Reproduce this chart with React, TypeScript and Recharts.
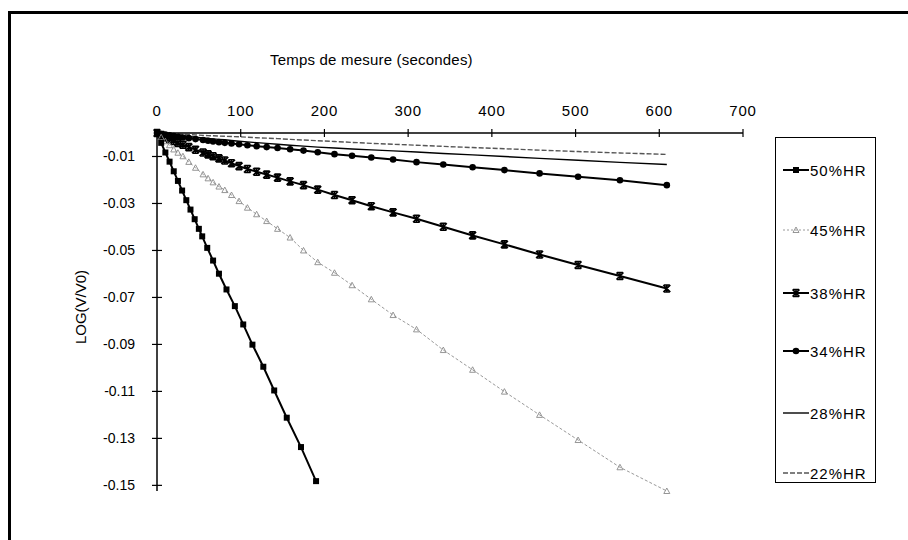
import React from 'react';
import { LineChart, Line, XAxis, YAxis } from 'recharts';

// temps de mesure (s)
const TIMES = [0, 5, 10, 15, 20, 25, 31, 38, 46, 55, 61, 67, 74, 81, 89, 98, 108, 119, 131, 144, 159, 175, 192, 212, 233, 256, 282, 310, 342, 377, 415, 457, 503, 553, 609];
const TIMES_50 = [0, 5, 10, 15, 20, 25, 30, 35, 40, 45, 50, 54, 60, 67, 74, 83, 93, 103, 114, 127, 140, 155, 172, 190];

// LOG(V/V0)
const HR50 = [0, -0.0042, -0.0083, -0.0122, -0.0163, -0.0204, -0.0245, -0.0286, -0.0326, -0.0367, -0.0408, -0.044, -0.0489, -0.0543, -0.0599, -0.0666, -0.0737, -0.0815, -0.0901, -0.0995, -0.1096, -0.1212, -0.1337, -0.1482];
const HR45 = [0, -0.0018, -0.0035, -0.0052, -0.007, -0.0084, -0.0099, -0.0123, -0.0148, -0.0176, -0.0193, -0.021, -0.0228, -0.0243, -0.0264, -0.029, -0.0318, -0.0346, -0.0375, -0.0408, -0.0445, -0.05, -0.055, -0.0595, -0.0648, -0.0708, -0.0775, -0.0836, -0.0924, -0.1008, -0.1101, -0.12, -0.1307, -0.1423, -0.1524];
const HR38 = [0, -0.0009, -0.0018, -0.0026, -0.0034, -0.0042, -0.005, -0.006, -0.0071, -0.0083, -0.0091, -0.0099, -0.0108, -0.0117, -0.0129, -0.0141, -0.0153, -0.0165, -0.0177, -0.019, -0.0206, -0.0222, -0.0241, -0.0264, -0.0286, -0.0312, -0.0338, -0.0365, -0.0399, -0.0436, -0.0474, -0.0517, -0.0562, -0.0609, -0.0662];
const HR34 = [0, -0.0004, -0.0007, -0.001, -0.0013, -0.0016, -0.0019, -0.0022, -0.0026, -0.003, -0.0033, -0.0036, -0.0039, -0.0042, -0.0045, -0.0048, -0.0052, -0.0056, -0.006, -0.0064, -0.0069, -0.0075, -0.0082, -0.009, -0.0097, -0.0104, -0.0113, -0.0124, -0.0134, -0.0146, -0.0158, -0.0172, -0.0186, -0.0201, -0.0222];
const HR28 = [0, -0.0002, -0.0004, -0.0006, -0.0008, -0.001, -0.0012, -0.0015, -0.0018, -0.0021, -0.0023, -0.0025, -0.0027, -0.0029, -0.0032, -0.0035, -0.0038, -0.0041, -0.0044, -0.0048, -0.0052, -0.0056, -0.006, -0.0064, -0.0068, -0.0072, -0.0076, -0.0081, -0.0087, -0.0093, -0.01, -0.0108, -0.0116, -0.0125, -0.0134];
const HR22 = [0, -0.0001, -0.0002, -0.0003, -0.0004, -0.0005, -0.0006, -0.0007, -0.0008, -0.001, -0.0011, -0.0012, -0.0013, -0.0014, -0.0015, -0.0016, -0.0018, -0.002, -0.0022, -0.0024, -0.0027, -0.003, -0.0033, -0.0036, -0.004, -0.0044, -0.0048, -0.0052, -0.0057, -0.0062, -0.0067, -0.0073, -0.0079, -0.0085, -0.0091];

const X_TICKS = [0, 100, 200, 300, 400, 500, 600, 700];
const Y_TICKS = [-0.01, -0.03, -0.05, -0.07, -0.09, -0.11, -0.13, -0.15];
const NAMES = ['50%HR', '45%HR', '38%HR', '34%HR', '28%HR', '22%HR'];

const FONT = '"Liberation Sans", Arial, Helvetica, sans-serif';

const toPoints = (ts: number[], vs: number[]) => ts.map((t, i) => ({ t, v: vs[i] }));

// markers
const squareShape = (cx: number, cy: number, k?: any) => (
  <rect key={k} x={cx - 3} y={cy - 3} width={6} height={6} fill="#000" />
);
const triShape = (cx: number, cy: number, k?: any) => (
  <path key={k} d={`M${cx},${cy - 3} L${cx + 3},${cy + 2.5} L${cx - 3},${cy + 2.5} Z`} fill="none" stroke="#8a8a8a" strokeWidth={0.9} />
);
const starShape = (cx: number, cy: number, k?: any) => (
  <path key={k} d={`M${cx - 3.5},${cy - 3.5} L${cx + 3.5},${cy + 3.5} M${cx + 3.5},${cy - 3.5} L${cx - 3.5},${cy + 3.5} M${cx},${cy - 4} L${cx},${cy + 4} M${cx - 3},${cy - 3.5} L${cx + 3},${cy - 3.5} M${cx - 3},${cy + 3.5} L${cx + 3},${cy + 3.5}`} stroke="#000" strokeWidth={1.6} fill="none" />
);
const circleShape = (cx: number, cy: number, k?: any) => (
  <circle key={k} cx={cx} cy={cy} r={3.3} fill="#000" />
);

const dotFrom = (fn: (cx: number, cy: number, k?: any) => any) => (p: any) =>
  p.cx == null || p.cy == null ? <g key={p.index} /> : fn(p.cx, p.cy, p.index);

const XTick = ({ x, y, payload }: any) => (
  <g>
    <line x1={x} x2={x} y1={y - 4} y2={y + 4} stroke="#000" strokeWidth={1.2} />
    <text x={x} y={y - 17} textAnchor="middle" fontSize={15} letterSpacing={0.8} fontFamily={FONT} fill="#000">{payload.value}</text>
  </g>
);

const YTick = ({ x, y, payload }: any) => (
  <g>
    <line x1={x - 5} x2={x + 5} y1={y} y2={y} stroke="#000" strokeWidth={1.2} />
    <text x={x - 22} y={y + 5} textAnchor="end" fontSize={14} fontFamily={FONT} fill="#000">{payload.value}</text>
  </g>
);

const legendStyles = [
  { stroke: '#000', width: 2, dash: undefined, marker: squareShape },
  { stroke: '#9a9a9a', width: 1, dash: '2 2', marker: triShape },
  { stroke: '#000', width: 2, dash: undefined, marker: starShape },
  { stroke: '#000', width: 2, dash: undefined, marker: circleShape },
  { stroke: '#000', width: 1.4, dash: undefined, marker: null },
  { stroke: '#555', width: 1.4, dash: '5 2', marker: null },
];

const App = () => {
  return (
    <div style={{ position: 'absolute', left: 0, top: 0, width: 908, height: 540, background: '#fff', fontFamily: FONT, overflow: 'hidden' }}>
      {/* cadre */}
      <div style={{ position: 'absolute', left: 8, top: 11, width: 920, height: 560, borderLeft: '3px solid #000', borderTop: '3px solid #000' }} />

      <div style={{ position: 'absolute', left: 270, top: 51, fontSize: 15, letterSpacing: 0.2, color: '#000', whiteSpace: 'nowrap' }}>
        Temps de mesure (secondes)
      </div>
      <div style={{ position: 'absolute', left: 80, top: 307, fontSize: 15, color: '#000', whiteSpace: 'nowrap', transform: 'translate(-50%, -50%) rotate(-90deg)' }}>
        LOG(V/V0)
      </div>

      <div style={{ position: 'absolute', left: 0, top: 0 }}>
        <LineChart width={908} height={540} margin={{ top: 103, right: 165, bottom: 49, left: 97 }}>
          <XAxis
            type="number"
            dataKey="t"
            orientation="top"
            domain={[0, 700]}
            ticks={X_TICKS}
            height={30}
            tickSize={0}
            tickMargin={0}
            tickLine={false}
            tick={<XTick />}
            axisLine={{ stroke: '#000', strokeWidth: 1.5 }}
            allowDuplicatedCategory={false}
          />
          <YAxis
            type="number"
            dataKey="v"
            domain={[-0.1524, 0]}
            ticks={Y_TICKS}
            width={60}
            tickSize={0}
            tickMargin={0}
            tickLine={false}
            tick={<YTick />}
            axisLine={{ stroke: '#000', strokeWidth: 1.5 }}
          />
          <Line data={toPoints(TIMES, HR22)} dataKey="v" name={NAMES[5]} type="linear" stroke="#555" strokeWidth={1.4} strokeDasharray="5 2" dot={false} isAnimationActive={false} />
          <Line data={toPoints(TIMES, HR28)} dataKey="v" name={NAMES[4]} type="linear" stroke="#000" strokeWidth={1.4} dot={false} isAnimationActive={false} />
          <Line data={toPoints(TIMES, HR34)} dataKey="v" name={NAMES[3]} type="linear" stroke="#000" strokeWidth={2} dot={dotFrom(circleShape)} isAnimationActive={false} />
          <Line data={toPoints(TIMES, HR38)} dataKey="v" name={NAMES[2]} type="linear" stroke="#000" strokeWidth={2} dot={dotFrom(starShape)} isAnimationActive={false} />
          <Line data={toPoints(TIMES, HR45)} dataKey="v" name={NAMES[1]} type="linear" stroke="#9a9a9a" strokeWidth={1} strokeDasharray="3 2" dot={dotFrom(triShape)} isAnimationActive={false} />
          <Line data={toPoints(TIMES_50, HR50)} dataKey="v" name={NAMES[0]} type="linear" stroke="#000" strokeWidth={2} dot={dotFrom(squareShape)} isAnimationActive={false} />
        </LineChart>
      </div>

      {/* légende */}
      <div style={{ position: 'absolute', left: 775, top: 137, width: 101, height: 346, border: '1.5px solid #000', boxSizing: 'border-box' }}>
        {NAMES.map((name, i) => {
          const st = legendStyles[i];
          const centers = [32, 92, 155, 213, 275, 335];
          return (
            <div key={name} style={{ position: 'absolute', left: 6, top: centers[i] - 10, height: 20, display: 'flex', alignItems: 'center' }}>
              <svg width={28} height={20}>
                <line x1={1} x2={27} y1={10} y2={10} stroke={st.stroke} strokeWidth={st.width} strokeDasharray={st.dash} />
                {st.marker ? st.marker(14, 10) : null}
              </svg>
              <span style={{ fontSize: 15, color: '#000', marginLeft: 0, letterSpacing: 1, whiteSpace: 'nowrap' }}>{name}</span>
            </div>
          );
        })}
      </div>
    </div>
  );
};

export default App;
